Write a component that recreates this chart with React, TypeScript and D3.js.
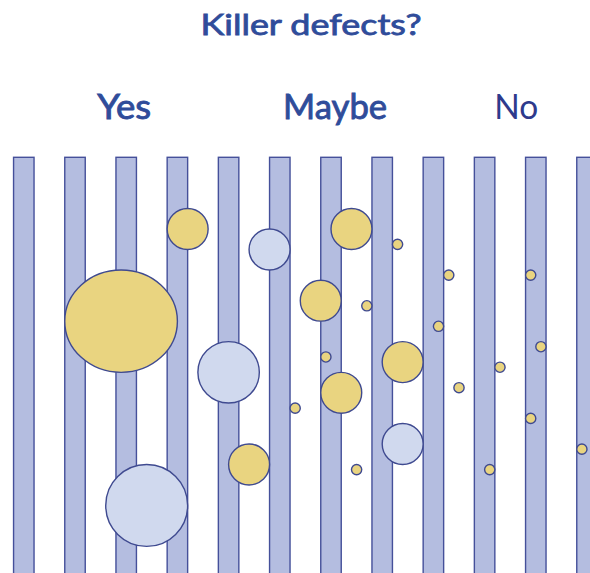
import { useEffect, useRef } from 'react'
import * as d3 from 'd3'

// stripe pitch units: x = stripe index, y = pitches below stripe top, r = pitches
const stripeIdx = d3.range(12)
const verdicts = ['Yes', 'Maybe', 'No']
const verdictPos = [1.96, 6.08, 9.62]
const verdictWidth = [54, 104, 44]
const title = 'Killer defects?'

type Defect = { x: number; y: number; rx: number; ry: number; kind: 'gold' | 'pale' }

const defectX = [3.2, 4.8, 1.9, 4.0, 5.3, 4.4, 2.4, 6.4, 7.3, 8.3, 9.9, 5.8, 6.7, 8.1, 10.1, 5.9, 7.4, 9.3, 6.2, 8.5, 9.9, 10.9, 6.5, 9.1, 7.4]
const defectY = [1.4, 1.8, 3.2, 4.2, 4.9, 6.0, 6.8, 1.4, 1.7, 2.3, 2.3, 2.8, 2.9, 3.3, 3.7, 3.9, 4.0, 4.1, 4.6, 4.5, 5.1, 5.7, 6.1, 6.1, 5.6]
const defectRx = [0.4, 0.4, 1.1, 0.6, 0.1, 0.4, 0.8, 0.4, 0.1, 0.1, 0.1, 0.4, 0.1, 0.1, 0.1, 0.1, 0.4, 0.1, 0.4, 0.1, 0.1, 0.1, 0.1, 0.1, 0.4]
const defectRy = [0.4, 0.4, 1.0, 0.6, 0.1, 0.4, 0.8, 0.4, 0.1, 0.1, 0.1, 0.4, 0.1, 0.1, 0.1, 0.1, 0.4, 0.1, 0.4, 0.1, 0.1, 0.1, 0.1, 0.1, 0.4]
const defectKind: Defect['kind'][] = ['gold', 'pale', 'gold', 'pale', 'gold', 'gold', 'pale', 'gold', 'gold', 'gold', 'gold', 'gold', 'gold', 'gold', 'gold', 'gold', 'gold', 'gold', 'gold', 'gold', 'gold', 'gold', 'gold', 'gold', 'pale']

const App = () => {
  const svgRef = useRef<SVGSVGElement | null>(null)

  useEffect(() => {
    if (!svgRef.current) return
    const svg = d3.select(svgRef.current)
    svg.selectAll('*').remove()

    const width = 590
    const height = 573
    const pitch = 51.2
    const top = 157.3

    const x = d3.scaleLinear().domain([0, 11]).range([23.8, 23.8 + 11 * pitch])
    const y = d3.scaleLinear().domain([0, 8]).range([top, top + 8 * pitch])
    const r = d3.scaleLinear().domain([0, 1]).range([0, pitch])

    const defects: Defect[] = defectX.map((dx, i) => ({
      x: dx,
      y: defectY[i],
      rx: defectRx[i],
      ry: defectRy[i],
      kind: defectKind[i],
    }))

    svg.append('rect').attr('width', width).attr('height', height).attr('fill', '#ffffff')

    // the blurry labels read heavier than regular, lighter than bold
    svg
      .append('text')
      .attr('x', 311)
      .attr('y', 35)
      .attr('text-anchor', 'middle')
      .attr('font-family', 'Lato, "Open Sans", sans-serif')
      .attr('font-size', 28)
      .attr('textLength', 221)
      .attr('lengthAdjust', 'spacingAndGlyphs')
      .attr('fill', '#2f4c9a')
      .attr('stroke', '#2f4c9a')
      .attr('stroke-width', 0.8)
      .text(title)

    svg
      .selectAll('text.verdict')
      .data(verdicts)
      .enter()
      .append('text')
      .attr('class', 'verdict')
      .attr('x', (_, i) => x(verdictPos[i]))
      .attr('y', 119)
      .attr('text-anchor', 'middle')
      .attr('font-family', 'Lato, "Open Sans", sans-serif')
      .attr('font-size', 35)
      .attr('textLength', (_, i) => verdictWidth[i])
      .attr('lengthAdjust', 'spacingAndGlyphs')
      .attr('fill', (d) => (d === 'No' ? '#2e3a8c' : '#2f4c9a'))
      .attr('stroke', (d) => (d === 'No' ? 'none' : '#2f4c9a'))
      .attr('stroke-width', 0.9)
      .text((d) => d)

    svg
      .selectAll('rect.stripe')
      .data(stripeIdx)
      .enter()
      .append('rect')
      .attr('class', 'stripe')
      .attr('x', (d) => x(d) - r(0.2))
      .attr('y', y(0))
      .attr('width', r(0.4))
      .attr('height', y(9) - y(0))
      .attr('fill', '#b4bde0')
      .attr('stroke', '#45509a')
      .attr('stroke-width', 1.4)

    svg
      .selectAll('ellipse.defect')
      .data(defects)
      .enter()
      .append('ellipse')
      .attr('class', 'defect')
      .attr('cx', (d) => x(d.x))
      .attr('cy', (d) => y(d.y))
      .attr('rx', (d) => r(d.rx))
      .attr('ry', (d) => r(d.ry))
      .attr('fill', (d) => (d.kind === 'gold' ? '#e9d480' : '#d0d9ee'))
      .attr('stroke', '#3f4a90')
      .attr('stroke-width', 1.4)
  }, [])

  return (
    <svg
      ref={svgRef}
      width={590}
      height={573}
      style={{ position: 'absolute', left: 0, top: 0, display: 'block' }}
    />
  )
}

export default App
